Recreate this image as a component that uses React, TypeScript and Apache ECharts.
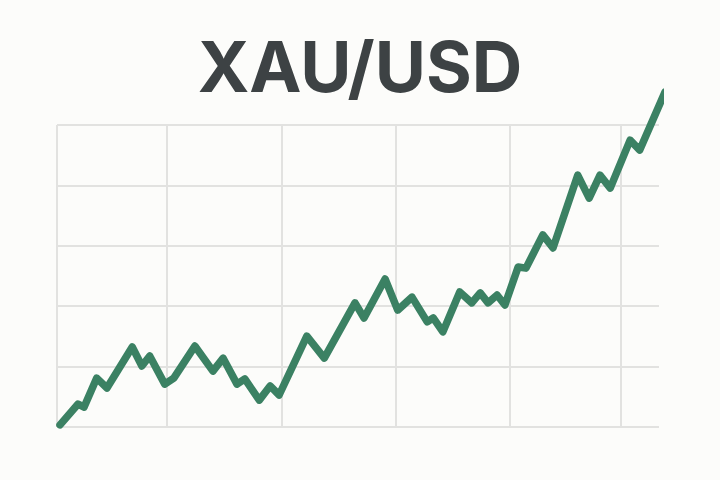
import React, { useEffect, useRef } from "react";
import * as echarts from "echarts";

// x positions (time units, 0..100 across the grid) and prices (0..100 scale)
const xValues = [0.5, 3.5, 4.5, 6.6, 8.3, 12.5, 14.1, 15.4, 17.9, 19.4, 22.9, 25.9, 27.6, 29.9, 31.2, 33.6, 35.4, 36.9, 41.5, 44.4, 49.5, 51.0, 54.5, 56.6, 58.97, 61.5, 62.5, 64.1, 66.9, 68.9, 70.3, 71.6, 73.1, 74.4, 76.6, 77.9, 80.7, 82.4, 86.5, 88.4, 90.2, 91.9, 95.2, 96.8, 101.0];
const prices = [0.7, 7.6, 6.6, 16.2, 12.9, 26.5, 20.2, 23.5, 14.2, 16.2, 26.8, 18.5, 22.8, 14.2, 15.9, 8.9, 13.6, 10.6, 30.1, 22.8, 41.1, 36.1, 49.0, 38.7, 43.0, 34.8, 36.1, 31.5, 44.7, 41.1, 44.4, 41.1, 43.7, 40.4, 53.0, 52.6, 63.6, 59.3, 83.4, 75.8, 83.4, 79.1, 95.0, 91.7, 110.9];
const verticalGridX = [0, 18.2, 37.3, 56.3, 75.2, 93.6];
const yTicks = { min: 0, max: 100, interval: 20 };
const titleText = "XAU/USD";

export default function App() {
  const ref = useRef<HTMLDivElement>(null);
  useEffect(() => {
    if (!ref.current) return;
    const chart = echarts.init(ref.current, null, { renderer: "svg" });
    const gridColor = "#e2e2e0";
    chart.setOption({
      animation: false,
      backgroundColor: "#fcfcfa",
      title: {
        text: titleText,
        left: "center",
        top: 26,
        textStyle: {
          fontFamily: "Inter",
          fontWeight: "bold",
          fontSize: 70,
          color: "#3d4244",
        },
      },
      grid: { left: 57, right: 61, top: 125, bottom: 53 },
      xAxis: {
        type: "value",
        min: 0,
        max: 100,
        axisLine: { show: false },
        axisTick: { show: false },
        axisLabel: { show: false },
        splitLine: { show: false },
      },
      yAxis: {
        type: "value",
        min: yTicks.min,
        max: yTicks.max,
        interval: yTicks.interval,
        axisLine: { show: false },
        axisTick: { show: false },
        axisLabel: { show: false },
        splitLine: { show: true, lineStyle: { color: gridColor, width: 2 } },
      },
      series: [
        {
          type: "line",
          data: xValues.map((x, i) => [x, prices[i]]),
          clip: false,
          showSymbol: false,
          symbol: "none",
          lineStyle: { color: "#3b8163", width: 7.5, cap: "round", join: "round" },
          markLine: {
            silent: true,
            symbol: "none",
            label: { show: false },
            lineStyle: { color: gridColor, width: 2, type: "solid" },
            data: verticalGridX.map((x) => ({ xAxis: x })),
            z: 1,
          },
          z: 3,
        },
      ],
    });
    return () => chart.dispose();
  }, []);
  return (
    <div
      ref={ref}
      style={{ position: "fixed", left: 0, top: 0, width: 720, height: 480 }}
    />
  );
}
